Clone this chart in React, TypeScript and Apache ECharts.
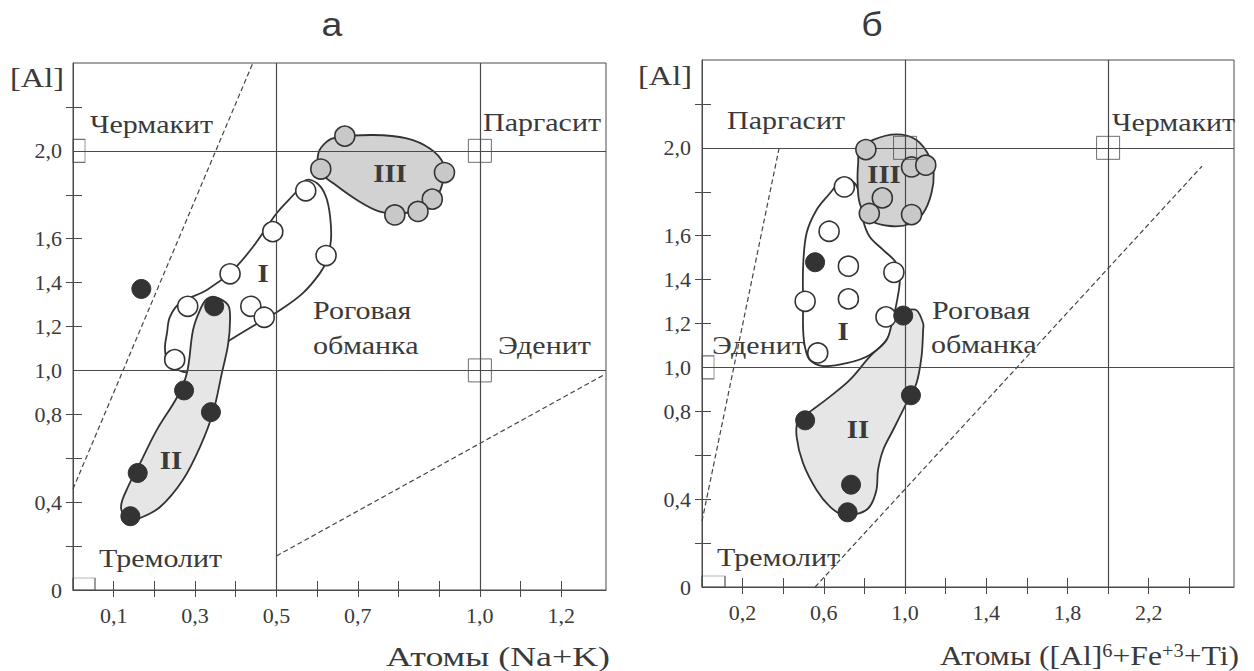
import React, { useEffect, useRef } from 'react';
import * as echarts from 'echarts';

// ---------- Panel а : [Al] vs Na+K ----------
const openA = [[0.282, 1.292], [0.386, 1.44], [0.491, 1.632], [0.572, 1.818], [0.437, 1.292], [0.47, 1.242], [0.25, 1.049], [0.622, 1.523]];
const filledA = [[0.168, 1.371], [0.347, 1.292], [0.273, 0.909], [0.339, 0.81], [0.159, 0.533], [0.141, 0.336]];
const grayA = [[0.668, 2.067], [0.609, 1.917], [0.913, 1.901], [0.883, 1.78], [0.848, 1.724], [0.791, 1.708]];
const dashA1 = [[0, 0.46], [0.442, 2.4]];
const dashA2 = [[0.5, 0.155], [1.305, 0.98]];
const gridXA = [0.5, 1.0];
const gridYA = [1.0, 2.0];
const endA = [[0, 0], [0, 2], [1, 1], [1, 2]]; // Тремолит, Чермакит, Эденит, Паргасит
const xTicksA = [0.1, 0.2, 0.3, 0.4, 0.5, 0.6, 0.7, 0.8, 0.9, 1.0, 1.1, 1.2];
const xLabelsA = [0.1, 0.3, 0.5, 0.7, 1.0, 1.2];
const outlineIA = [[0.573, 1.867], [0.602, 1.849], [0.622, 1.79], [0.632, 1.699], [0.634, 1.594], [0.624, 1.503], [0.607, 1.443], [0.565, 1.352], [0.509, 1.275], [0.447, 1.207], [0.386, 1.138], [0.337, 1.07], [0.288, 0.993], [0.258, 1.002], [0.233, 1.038], [0.226, 1.102], [0.231, 1.17], [0.238, 1.243], [0.263, 1.307], [0.329, 1.366], [0.393, 1.457], [0.442, 1.562], [0.501, 1.717], [0.546, 1.808]];
const outlineIIA = [[0.349, 1.334], [0.381, 1.298], [0.386, 1.23], [0.381, 1.116], [0.366, 0.989], [0.344, 0.807], [0.312, 0.651], [0.27, 0.501], [0.214, 0.378], [0.165, 0.328], [0.135, 0.319], [0.118, 0.378], [0.135, 0.469], [0.165, 0.578], [0.206, 0.729], [0.256, 0.879], [0.28, 0.988], [0.295, 1.184], [0.312, 1.275], [0.329, 1.325]];
const outlineIIIA = [[0.603, 1.989], [0.623, 2.041], [0.648, 2.061], [0.738, 2.072], [0.82, 2.057], [0.877, 2.011], [0.91, 1.943], [0.91, 1.867], [0.894, 1.791], [0.861, 1.738], [0.804, 1.715], [0.754, 1.723], [0.697, 1.777], [0.64, 1.852], [0.607, 1.905]];

// ---------- Panel б : [Al] vs [Al]6+Fe3+Ti ----------
const openB = [[0.701, 1.822], [0.626, 1.62], [0.721, 1.461], [0.945, 1.433], [0.508, 1.301], [0.721, 1.312], [0.906, 1.23], [0.57, 1.066]];
const filledB = [[0.557, 1.479], [0.991, 1.236], [1.029, 0.873], [0.508, 0.759], [0.734, 0.466], [0.717, 0.34]];
const grayB = [[0.807, 1.992], [1.032, 1.913], [1.102, 1.921], [0.888, 1.772], [0.824, 1.701], [1.032, 1.696]];
const dashB1 = [[0, 0.3], [0.38, 2.0]];
const dashB2 = [[0.557, 0], [2.462, 1.916]];
const gridXB = [1.0, 2.0];
const gridYB = [1.0, 2.0];
const endB = [[0, 0], [0, 1], [1, 2], [2, 2]]; // Тремолит, Эденит, Паргасит, Чермакит
const xTicksB = [0.2, 0.4, 0.6, 0.8, 1.0, 1.2, 1.4, 1.6, 1.8, 2.0, 2.2, 2.4];
const xLabelsB = [0.2, 0.6, 1.0, 1.4, 1.8, 2.2];
const outlineIB = [[0.695, 1.857], [0.753, 1.838], [0.777, 1.777], [0.793, 1.671], [0.826, 1.595], [0.892, 1.535], [0.958, 1.474], [0.974, 1.398], [0.958, 1.292], [0.939, 1.216], [0.915, 1.134], [0.826, 1.057], [0.712, 1.019], [0.597, 1.006], [0.531, 1.034], [0.507, 1.094], [0.498, 1.17], [0.498, 1.276], [0.498, 1.459], [0.515, 1.611], [0.564, 1.717], [0.63, 1.793], [0.67, 1.838]];
const outlineIIB = [[1.007, 1.261], [1.056, 1.261], [1.089, 1.201], [1.089, 1.17], [1.081, 1.049], [1.056, 0.928], [1.007, 0.837], [0.941, 0.715], [0.892, 0.624], [0.867, 0.533], [0.859, 0.442], [0.826, 0.366], [0.777, 0.336], [0.695, 0.328], [0.63, 0.366], [0.564, 0.442], [0.498, 0.563], [0.466, 0.684], [0.474, 0.76], [0.531, 0.798], [0.63, 0.867], [0.728, 0.943], [0.826, 1.049], [0.909, 1.125], [0.941, 1.216], [0.964, 1.252]];
const outlineIIIB = [[0.777, 1.99], [0.843, 2.036], [0.958, 2.061], [1.056, 2.036], [1.121, 1.959], [1.141, 1.884], [1.13, 1.793], [1.089, 1.702], [1.023, 1.653], [0.925, 1.644], [0.826, 1.671], [0.777, 1.747], [0.766, 1.853], [0.769, 1.929]];

// shared y ticks
const yTicks = [0.2, 0.4, 0.6, 0.8, 1.2, 1.4, 1.6, 1.8, 2.2];
const yLabels = [0, 0.4, 0.8, 1.0, 1.2, 1.4, 1.6, 2.0];

const LINE = '#4a4a4a';
const INK = '#3a3a3a';
const SERIF = 'Liberation Serif';
const SANS = 'Liberation Sans';
const SX = 1.2;

const fmt = (v: number) => (v === 0 ? '0' : (Math.round(v * 10) / 10).toFixed(1).replace('.', ','));

function axesFor(gi: number, xmax: number, xTicks: number[], xLabels: number[]) {
  const tickStyle = { color: LINE, width: 1 };
  const xs = [
    {
      gridIndex: gi, type: 'value', min: 0, max: xmax, position: 'bottom', offset: 0,
      axisLine: { show: true, onZero: false, lineStyle: { color: LINE, width: 1 } },
      axisTick: { show: true, customValues: xTicks, length: 7, lineStyle: tickStyle },
      axisLabel: { customValues: xLabels, formatter: fmt, fontFamily: SERIF, fontSize: 22, color: INK, margin: 14 },
      splitLine: { show: false },
    },
    {
      gridIndex: gi, type: 'value', min: 0, max: xmax, position: 'bottom', offset: 0,
      axisLine: { show: false },
      axisTick: { show: true, inside: true, customValues: xTicks, length: 9, lineStyle: tickStyle },
      axisLabel: { show: false },
      splitLine: { show: false },
    },
  ];
  const ys = [
    {
      gridIndex: gi, type: 'value', min: 0, max: 2.4, position: 'left', offset: 0,
      axisLine: { show: true, onZero: false, lineStyle: { color: LINE, width: 1 } },
      axisTick: { show: true, customValues: yTicks, length: 7, lineStyle: tickStyle },
      axisLabel: { customValues: yLabels, formatter: fmt, fontFamily: SERIF, fontSize: 22, color: INK, margin: 11 },
      splitLine: { show: false },
    },
    {
      gridIndex: gi, type: 'value', min: 0, max: 2.4, position: 'left', offset: 0,
      axisLine: { show: false },
      axisTick: { show: true, inside: true, customValues: yTicks, length: 9, lineStyle: tickStyle },
      axisLabel: { show: false },
      splitLine: { show: false },
    },
  ];
  return { xs, ys };
}

function blob(pts: number[][], fill: string, ai: number) {
  return {
    type: 'custom', xAxisIndex: ai, yAxisIndex: ai, z: 1, silent: true, clip: false,
    data: [[0, 0]],
    renderItem: (_p: any, api: any) => ({
      type: 'polygon',
      shape: { points: pts.map((p) => api.coord(p)), smooth: 0.35 },
      style: { fill, stroke: '#333', lineWidth: 1.8 },
    }),
  };
}

function dots(pts: number[][], fill: string, border: string, bw: number, size: number, ai: number) {
  return {
    type: 'scatter', xAxisIndex: ai, yAxisIndex: ai, z: 6, silent: true, clip: false,
    symbol: 'circle', symbolSize: size, data: pts,
    itemStyle: { color: fill, borderColor: border, borderWidth: bw, opacity: 1 },
  };
}

function dashed(pts: number[][], ai: number, gx: number[], gy: number[]) {
  const s: any = {
    type: 'line', xAxisIndex: ai, yAxisIndex: ai, z: 3, silent: true, symbol: 'none',
    data: pts, lineStyle: { color: '#444', width: 1.2, type: [5, 3] },
  };
  if (gx.length) {
    s.markLine = {
      silent: true, symbol: ['none', 'none'], label: { show: false },
      lineStyle: { color: LINE, width: 1.2, type: 'solid' },
      data: [...gx.map((v) => ({ xAxis: v })), ...gy.map((v) => ({ yAxis: v }))],
    };
  }
  return s;
}

function squares(items: any[], ai: number) {
  return {
    type: 'scatter', xAxisIndex: ai, yAxisIndex: ai, z: 7, silent: true, clip: false,
    symbol: 'rect', data: items,
    itemStyle: { color: 'rgba(0,0,0,0)', borderColor: LINE, borderWidth: 1 },
  };
}

function txt(text: string, x: number, y: number, opts: any = {}) {
  return {
    type: 'text', x, y, scaleX: opts.sx ?? SX, z: 100, silent: true,
    style: {
      text,
      fontFamily: opts.font ?? SERIF,
      fontSize: opts.size ?? 25,
      fontWeight: opts.weight ?? 'normal',
      fill: INK,
      align: opts.align ?? 'left',
      verticalAlign: opts.valign ?? 'middle',
      lineHeight: opts.lh,
      rich: opts.rich,
    },
  };
}

export default function App() {
  const ref = useRef<HTMLDivElement>(null);
  useEffect(() => {
    if (!ref.current) return;
    const chart = echarts.init(ref.current, undefined, { renderer: 'svg' });
    const a = axesFor(0, 1.31, xTicksA, xLabelsA);
    const b = axesFor(1, 2.62, xTicksB, xLabelsB);
    const sqA = [
      { value: endA[0], symbolSize: [22, 12], symbolOffset: [11, -6] },
      { value: endA[1], symbolSize: [12, 23], symbolOffset: [6, 0] },
      { value: endA[2], symbolSize: 23 },
      { value: endA[3], symbolSize: 23 },
    ];
    const sqB = [
      { value: endB[0], symbolSize: [23, 11], symbolOffset: [11.5, -5.5] },
      { value: endB[1], symbolSize: [12, 23], symbolOffset: [6, 0] },
      { value: endB[2], symbolSize: 23 },
      { value: endB[3], symbolSize: 23 },
    ];
    const rich = {
      m: { fontFamily: SERIF, fontSize: 28, lineHeight: 26, fill: INK },
      sup: { fontFamily: SERIF, fontSize: 18, lineHeight: 14, verticalAlign: 'top', fill: INK },
    };
    const roman = { size: 25, weight: 'bold', align: 'center', sx: 1.15 };
    chart.setOption({
      animation: false,
      backgroundColor: '#fff',
      grid: [
        { left: 73, top: 63, width: 533, height: 527, show: true, borderColor: LINE, borderWidth: 1, backgroundColor: 'transparent' },
        { left: 702, top: 60, width: 532, height: 527, show: true, borderColor: LINE, borderWidth: 1, backgroundColor: 'transparent' },
      ],
      xAxis: [...a.xs, ...b.xs],
      yAxis: [...a.ys, ...b.ys],
      series: [
        blob(outlineIA, '#ffffff', 0),
        blob(outlineIIA, '#e6e6e6', 0),
        blob(outlineIIIA, '#d2d2d2', 0),
        dashed(dashA1, 0, gridXA, gridYA),
        dashed(dashA2, 0, [], []),
        squares(sqA, 0),
        dots(openA, '#ffffff', '#333', 1.6, 20, 0),
        dots(filledA, '#333333', '#333', 1, 19, 0),
        dots(grayA, '#c8c8c8', '#333', 1.6, 20, 0),

        blob(outlineIB, '#ffffff', 2),
        blob(outlineIIB, '#e6e6e6', 2),
        blob(outlineIIIB, '#d2d2d2', 2),
        dashed(dashB1, 2, gridXB, gridYB),
        dashed(dashB2, 2, [], []),
        squares(sqB, 2),
        dots(openB, '#ffffff', '#333', 1.6, 20, 2),
        dots(filledB, '#333333', '#333', 1, 19, 2),
        dots(grayB, '#c8c8c8', '#333', 1.6, 20, 2),
      ],
      graphic: [
        txt('а', 332, 25, { font: SANS, size: 34, align: 'center', sx: 1.1 }),
        txt('б', 872, 25, { font: SANS, size: 34, align: 'center', sx: 1.1 }),
        txt('[Al]', 10, 77, { size: 27 }),
        txt('[Al]', 638, 75, { size: 27 }),
        txt('Чермакит', 90, 124),
        txt('Паргасит', 483, 122),
        txt('Роговая', 313, 310),
        txt('обманка', 313, 345),
        txt('Эденит', 498, 345),
        txt('Тремолит', 99, 558),
        txt('I', 263, 274, roman),
        txt('II', 171, 461, roman),
        txt('III', 390, 174, roman),
        txt('Атомы (Na+K)', 610, 656, { size: 28, align: 'right', sx: 1.28 }),

        txt('Паргасит', 727, 120),
        txt('Чермакит', 1112, 122),
        txt('Роговая', 932, 310),
        txt('обманка', 931, 344),
        txt('Эденит', 712, 345),
        txt('Тремолит', 717, 557),
        txt('I', 843, 332, roman),
        txt('II', 858, 430, roman),
        txt('III', 884, 175, roman),
        txt('{m|Атомы ([Al]}{sup|6}{m|+Fe}{sup|+3}{m|+Ti)}', 940, 655, { size: 28, align: 'left', lh: 26, rich, sx: 1.13 }),
      ],
    });
    return () => chart.dispose();
  }, []);
  return (
    <div
      ref={ref}
      style={{ position: 'absolute', left: 0, top: 0, width: 1254, height: 671, background: '#fff' }}
    />
  );
}
